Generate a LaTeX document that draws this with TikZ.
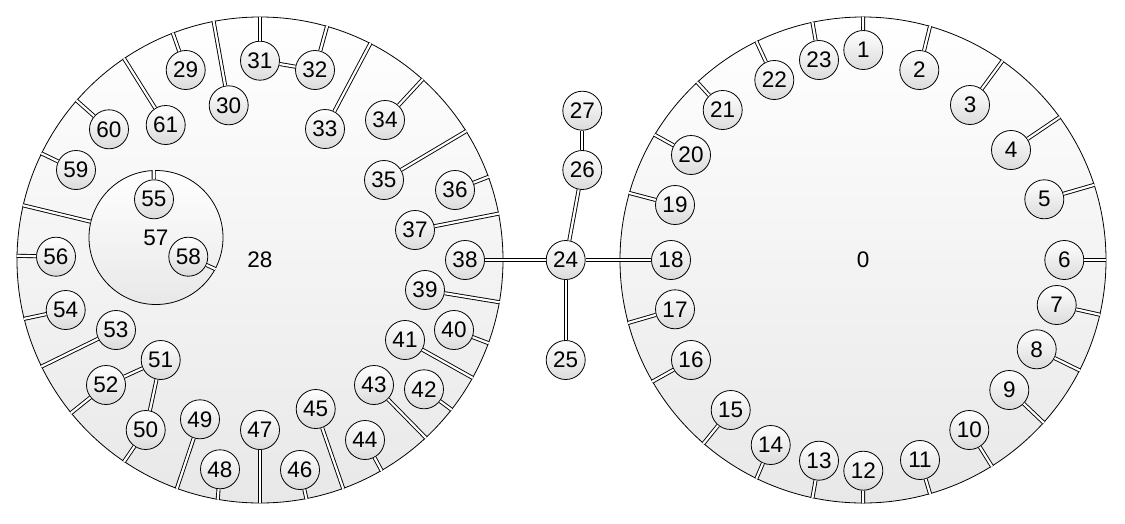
\documentclass[tikz,border=0pt]{standalone}
\usepackage{fontspec}
\setmainfont{Liberation Sans}
\begin{document}
\begin{tikzpicture}[x=1pt,y=-1pt,
  bigc/.style={circle,draw=black,line width=0.8pt,inner sep=0pt,top color=white,bottom color=gray!18,font=\fontsize{22.5}{22.5}\selectfont},
  sm/.style={circle,draw=black,line width=0.8pt,inner sep=0pt,minimum size=39pt,top color=white,bottom color=gray!28,font=\fontsize{22.5}{22.5}\selectfont},
  dbl/.style={draw=black,line width=0.9pt,double=white,double distance=2.2pt}]
\useasboundingbox (0,0) rectangle (1125,523);
\node[bigc,minimum size=486pt] (c28) at (260,260) {28};
\node[bigc,minimum size=486pt] (c0) at (863,260) {0};
\node[bigc,minimum size=134pt] (c57) at (156,237.5) {57};
\draw[dbl] (c57) -- (c28.167);
% hub nodes
\node[sm] (n24) at (565.7,260) {24};
\node[sm] (n25) at (565.7,360) {25};
\node[sm] (n26) at (582.3,170) {26};
\node[sm] (n27) at (582.3,110.7) {27};
\node[sm] (n51) at (160.7,360) {51};
\node[sm] (n55) at (154,199.3) {55};
\node[sm] (n58) at (188.3,256.7) {58};
\draw[dbl] (n24) -- (n25);
\draw[dbl] (n24) -- (n26);
\draw[dbl] (n26) -- (n27);
\draw[dbl] (n24) -- (c0.180);
\draw[dbl] (n55) -- (c57.92);
\draw[dbl] (n58) -- (c57.332);
% left circle children
\foreach \n/\x/\y/\a in {29/185.7/70/111,30/228.7/105.3/101,31/260/60.7/90,32/315/70/74,
  33/325/129/63,34/385/120/48,35/384/180/32,36/455/190/20,37/415/230/11,38/465/260/0,
  39/425/290/350,40/454/330/340,41/405/340/331,42/424/389.3/322,43/374/385/313,
  44/365/440/300,45/315.7/409/290,46/300/470/281,47/260/430/270,48/220/469.3/260,
  49/200/419.3/250,50/145.7/430/236,52/106/385/219,53/116/330/206,54/65.7/310/194,
  56/56/256.7/179,59/76/170/154,60/109/129.3/139,61/165.7/125/124}{
  \node[sm] (n\n) at (\x,\y) {\n};
  \draw[dbl] (n\n) -- (c28.\a);
}
% right circle children
\foreach \n/\x/\y/\a in {1/863.3/50/90,2/919.3/70/74,3/970/105/55,4/1011/150/36,
  5/1044.3/199.3/18,6/1064.3/260/0,7/1056.7/305/347,8/1036.7/349.3/333,9/1009.3/390/318,
  10/969.3/430/302,11/920/460/286,12/863.3/470.7/270,13/819/460.7/258,14/770.7/445/244,
  15/730.7/410/229,16/691/360/210,17/675/309.3/195,18/671/260/180,19/675/205/164,
  20/691/155/149,21/722.7/110/133,22/774.3/80/116,23/819/60/102}{
  \node[sm] (n\n) at (\x,\y) {\n};
  \draw[dbl] (n\n) -- (c0.\a);
}
\draw[dbl] (n24) -- (n38);
\draw[dbl] (n31) -- (n32);
\draw[dbl] (n51) -- (n50);
\draw[dbl] (n51) -- (n52);
\end{tikzpicture}
\end{document}
